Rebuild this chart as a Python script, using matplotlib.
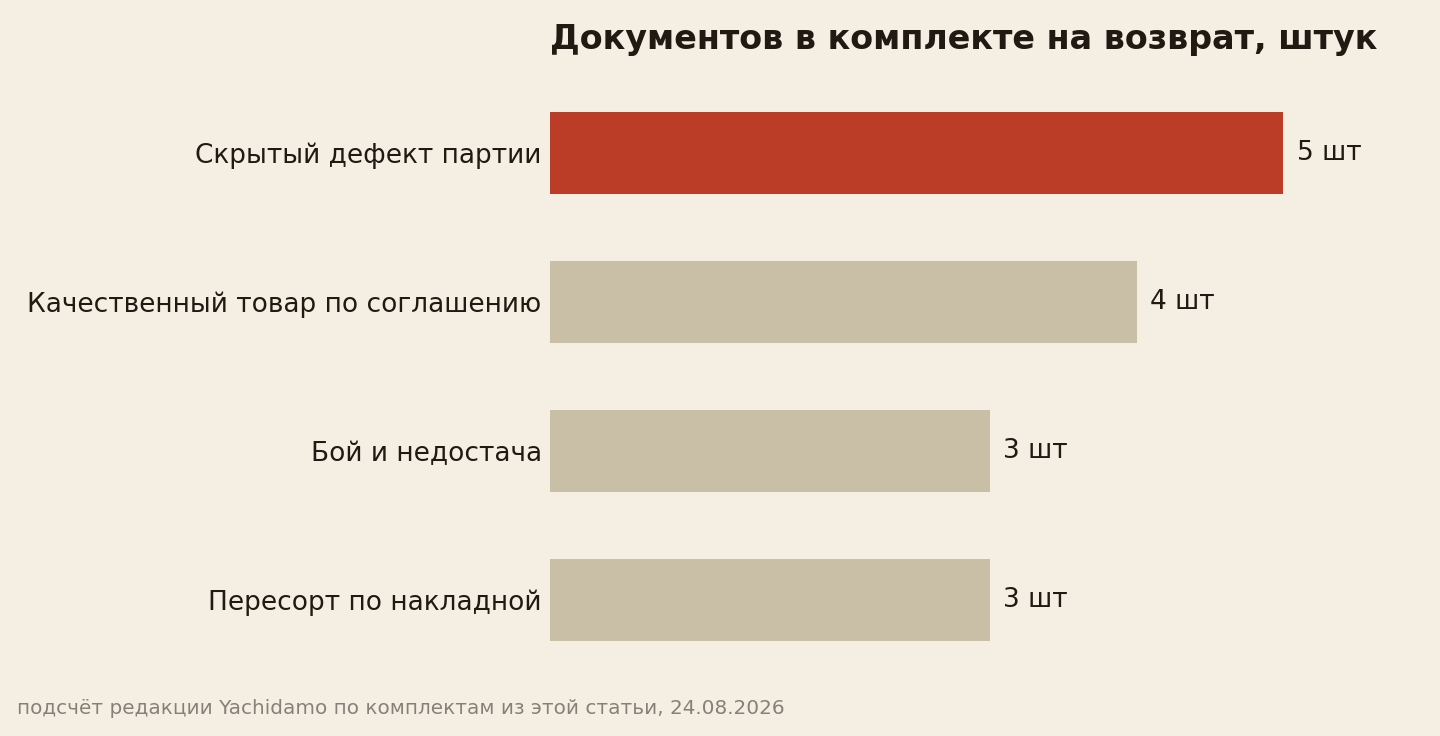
import matplotlib.pyplot as plt

categories = ['Скрытый дефект партии', 'Качественный товар по соглашению',
              'Бой и недостача', 'Пересорт по накладной']
values = [5, 4, 3, 3]
labels = ['5 шт', '4 шт', '3 шт', '3 шт']
colors = ['#bb3d27', '#c9bfa7', '#c9bfa7', '#c9bfa7']

bg = '#f5efe3'
fig = plt.figure(figsize=(14.4, 7.36), dpi=100, facecolor=bg)
ax = fig.add_axes([550/1440, 1 - 689/736, 880/1440, (689 - 63.6)/736])
ax.set_facecolor(bg)

ypos = range(len(categories))
ax.barh(ypos, values, height=0.55, color=colors)
for y, v, t in zip(ypos, values, labels):
    ax.text(v + 0.09, y, t, va='center', ha='left', fontsize=19, color='#1f1a12')

ax.set_xlim(0, 6)
ax.set_ylim(3.6, -0.6)
ax.set_yticks(list(ypos))
ax.set_yticklabels(categories, fontsize=19, color='#1f1a12')
ax.tick_params(axis='y', length=0, pad=6)
ax.set_xticks([])
for s in ax.spines.values():
    s.set_visible(False)

fig.text(550/1440, 1 - 40/736, 'Документов в комплекте на возврат, штук',
         fontsize=24, fontweight='bold', color='#1f1a12', ha='left', va='center')
fig.text(17/1440, 1 - 708/736,
         'подсчёт редакции Yachidamo по комплектам из этой статьи, 24.08.2026',
         fontsize=14.4, color='#888078', ha='left', va='center')

fig.savefig('out.png', dpi=100, facecolor=bg)
